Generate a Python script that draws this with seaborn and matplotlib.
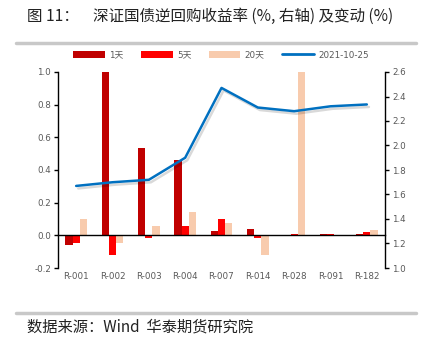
import numpy as np
import pandas as pd
import matplotlib
matplotlib.use("Agg")
import matplotlib.pyplot as plt
import matplotlib.patheffects as pe
from matplotlib.lines import Line2D
from matplotlib.patches import Patch
import seaborn as sns

# Repo tenors and changes in yield (pp)
tenors = ["R-001", "R-002", "R-003", "R-004", "R-007", "R-014", "R-028", "R-091", "R-182"]
chg_1d = [-0.06, 1.00, 0.535, 0.46, 0.025, 0.04, 0.002, 0.01, 0.01]
chg_5d = [-0.05, -0.12, -0.015, 0.055, 0.10, -0.015, 0.01, 0.01, 0.018]
chg_20d = [0.10, -0.05, 0.06, 0.145, 0.075, -0.12, 1.00, 0.005, 0.033]
# Yield level on 2021-10-25 (%, right axis)
yield_level = [1.67, 1.70, 1.72, 1.90, 2.47, 2.31, 2.28, 2.32, 2.335]

series_names = ["1天", "5天", "20天"]
line_name = "2021-10-25"
colors = ["#C00000", "#FF0000", "#F8CBAD"]
line_color = "#0070C0"
grey_txt = "#595959"

sns.set_style("white")
plt.rcParams["font.family"] = ["DejaVu Sans", "Noto Sans CJK SC"]

df = pd.DataFrame({
    "tenor": tenors * 3,
    "chg": chg_1d + chg_5d + chg_20d,
    "window": [n for n in series_names for _ in tenors],
})

fig = plt.figure(figsize=(4.26, 3.46), dpi=100)
ax = fig.add_axes([58 / 426, 1 - 268 / 346, (385 - 58) / 426, (268 - 72) / 346])

sns.barplot(data=df, x="tenor", y="chg", hue="window", hue_order=series_names,
            palette=colors, width=0.6, linewidth=0, saturation=1, ax=ax, legend=False)
ax.set_xlim(-0.5, len(tenors) - 0.5)
ax.set_ylim(-0.2, 1.0)
ax.set_yticks(np.arange(-0.2, 1.01, 0.2))
ax.set_yticklabels([f"{v:.1f}" for v in np.arange(-0.2, 1.01, 0.2)])
ax.set_xlabel("")
ax.set_ylabel("")

# category axis sits on zero, ticks at category boundaries
ax.spines["bottom"].set_position(("data", 0))
ax.set_xticks(np.arange(-0.5, len(tenors), 1.0))
ax.set_xticklabels([])
ax.tick_params(axis="x", direction="out", length=4, width=1, color="black")
for i, t in enumerate(tenors):
    ax.text(i, -0.255, t, ha="center", va="center", fontsize=6.3, color=grey_txt)

for s in ["top", "right"]:
    ax.spines[s].set_visible(False)
for s in ["left", "bottom"]:
    ax.spines[s].set_color("black")
    ax.spines[s].set_linewidth(1)
ax.tick_params(axis="y", direction="out", length=3, width=1, color="black",
               labelsize=6.3, labelcolor=grey_txt, pad=2, left=True)

ax2 = ax.twinx()
sns.lineplot(x=np.arange(len(tenors)), y=yield_level, color=line_color, lw=1.8, ax=ax2,
             path_effects=[pe.SimpleLineShadow(offset=(1.5, -1.8), alpha=0.15, shadow_color="black"),
                           pe.Normal()])
ax2.set_ylim(1.0, 2.6)
ax2.set_yticks(np.arange(1.0, 2.61, 0.2))
ax2.set_yticklabels([f"{v:.1f}" for v in np.arange(1.0, 2.61, 0.2)])
for s in ["top", "left", "bottom"]:
    ax2.spines[s].set_visible(False)
ax2.spines["right"].set_color("black")
ax2.spines["right"].set_linewidth(1)
ax2.tick_params(axis="y", direction="out", length=3, width=1, color="black",
                labelsize=6.3, labelcolor=grey_txt, pad=2, right=True)
ax2.set_xlim(-0.5, len(tenors) - 0.5)

handles = [Patch(facecolor=c, edgecolor="none") for c in colors]
handles.append(Line2D([], [], color=line_color, lw=2))
fig.legend(handles, series_names + [line_name], loc="center", bbox_to_anchor=(221 / 426, 1 - 55 / 346),
           ncol=4, frameon=False, labelcolor=grey_txt, handlelength=3.6,
           handleheight=0.7, handletextpad=0.5, columnspacing=2.0,
           prop={"family": ["DejaVu Sans", "Noto Sans CJK SC"], "size": 6.3})

# title, rules and source line
fig.text(27 / 426, 1 - 16 / 346, "图 11：", fontsize=11.2, va="center", ha="left",
         family=["Noto Sans CJK SC"], color="#222222")
fig.text(93 / 426, 1 - 16 / 346, "深证国债逆回购收益率 (%, 右轴) 及变动 (%)", fontsize=11.2,
         va="center", ha="left", family=["Noto Sans CJK SC"], color="#222222")
fig.add_artist(Line2D([16 / 426, 416 / 426], [1 - 43 / 346] * 2, color="#C8C8C8", lw=2.5))
fig.add_artist(Line2D([16 / 426, 416 / 426], [1 - 313 / 346] * 2, color="#C8C8C8", lw=2.5))
fig.text(27 / 426, 1 - 327 / 346, "数据来源：Wind  华泰期货研究院", fontsize=11, va="center",
         ha="left", family=["Noto Sans CJK SC"], color="#222222")

fig.savefig("out.png", dpi=100)
